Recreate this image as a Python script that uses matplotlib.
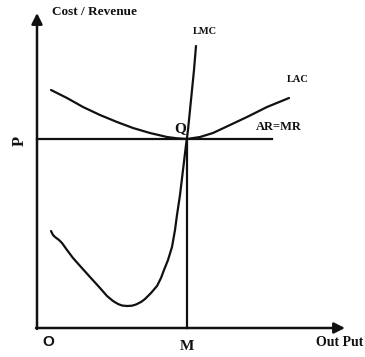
import matplotlib
matplotlib.use("Agg")
import matplotlib.pyplot as plt

# Data (x = output, y = cost/revenue), origin at O
lac_x = [14, 30, 46, 63, 80, 96, 113, 130, 140, 150, 163, 176, 193, 210, 230, 252]
lac_y = [238, 230, 221, 213, 206, 200, 195, 191, 189.7, 189, 191, 195, 203, 211, 221, 230]

lmc_x = [14, 16, 18, 22, 25, 30, 36, 44, 53, 63, 70, 76, 81, 85, 90, 95, 99, 104,
         108, 114, 120, 124, 127, 131, 135, 138, 140, 143, 146, 149, 151, 154, 157, 159]
lmc_y = [97, 93, 91, 88, 85, 78, 70, 61, 51, 40, 32, 27, 24, 22.5, 22, 22.3, 23.5, 26,
         29, 35, 42, 50, 58, 68, 81, 98, 113, 133, 158, 183, 198, 228, 258, 282]

q_output = 150      # M
price = 189         # P (AR = MR)
ar_end = 235
x_axis_end = 308
y_axis_end = 315

fig = plt.figure(figsize=(3.65, 3.57), dpi=100)
ax = fig.add_axes([0, 0, 1, 1])
ax.set_xlim(-37, 328)
ax.set_ylim(-29, 328)
ax.axis("off")

lw = 1.6
col = "#111111"
ax.plot(lac_x, lac_y, color=col, lw=lw, solid_capstyle="round", solid_joinstyle="round")
ax.plot(lmc_x, lmc_y, color=col, lw=lw, solid_capstyle="round", solid_joinstyle="round")
ax.plot([0, ar_end], [price, price], color=col, lw=lw)
ax.plot([q_output, q_output], [0, price], color=col, lw=lw)

# axes with arrows
ax.annotate("", xy=(0, y_axis_end), xytext=(0, -1),
            arrowprops=dict(arrowstyle="-|>", lw=1.8, color=col, mutation_scale=16,
                            shrinkA=0, shrinkB=0))
ax.annotate("", xy=(x_axis_end, 0), xytext=(-1, 0),
            arrowprops=dict(arrowstyle="-|>", lw=1.8, color=col, mutation_scale=16,
                            shrinkA=0, shrinkB=0))

serif = dict(family="Liberation Serif", weight="bold", color=col)
ax.text(58, 316, "Cost / Revenue", fontsize=9.5, ha="center", va="center", **serif)
ax.text(168, 297, "LMC", fontsize=7.5, ha="center", va="center", **serif)
ax.text(261, 248, "LAC", fontsize=7.5, ha="center", va="center", **serif)
ax.text(242, 201, "AR=MR", fontsize=9, ha="center", va="center", **serif)
ax.text(143, 199, "Q", fontsize=11, ha="center", va="center", **serif)
ax.text(-17, 187, "P", fontsize=12, ha="center", va="center", rotation=90, **serif)
ax.text(150, -19, "M", fontsize=11, ha="center", va="center", **serif)
ax.text(303, -15, "Out Put", fontsize=10, ha="center", va="center", **serif)
ax.text(11, -14, "O", fontsize=11, ha="center", va="center",
        family="Liberation Sans", weight="bold", color=col)

fig.savefig("out.png", dpi=100)
